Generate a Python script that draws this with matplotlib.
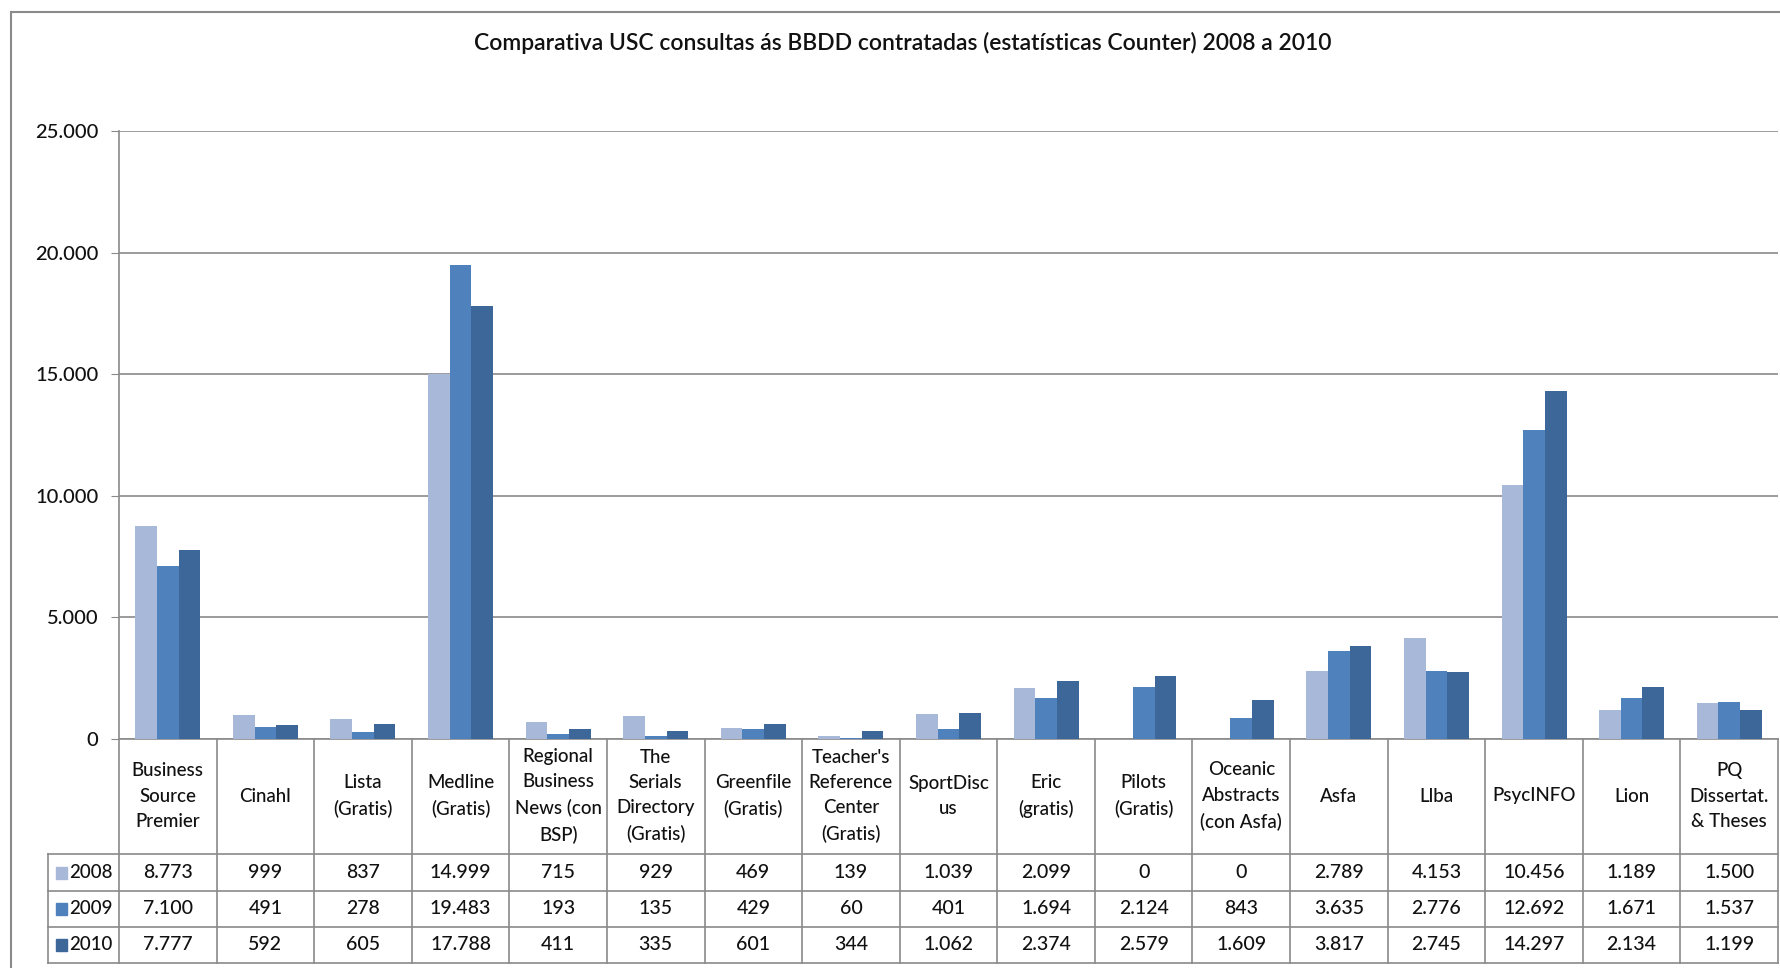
import matplotlib.pyplot as plt
from matplotlib.patches import Rectangle
import numpy as np

categories = ["Business\nSource\nPremier", "Cinahl", "Lista\n(Gratis)", "Medline\n(Gratis)",
              "Regional\nBusiness\nNews (con\nBSP)", "The\nSerials\nDirectory\n(Gratis)",
              "Greenfile\n(Gratis)", "Teacher's\nReference\nCenter\n(Gratis)", "SportDisc\nus",
              "Eric\n(gratis)", "Pilots\n(Gratis)", "Oceanic\nAbstracts\n(con Asfa)", "Asfa",
              "Llba", "PsycINFO", "Lion", "PQ\nDissertat.\n& Theses"]
years = ["2008", "2009", "2010"]
v2008 = [8773, 999, 837, 14999, 715, 929, 469, 139, 1039, 2099, 0, 0, 2789, 4153, 10456, 1189, 1500]
v2009 = [7100, 491, 278, 19483, 193, 135, 429, 60, 401, 1694, 2124, 843, 3635, 2776, 12692, 1671, 1537]
v2010 = [7777, 592, 605, 17788, 411, 335, 601, 344, 1062, 2374, 2579, 1609, 3817, 2745, 14297, 2134, 1199]
series = [v2008, v2009, v2010]
colors = ["#A7B8D9", "#4F81BD", "#3D6699"]
title = "Comparativa USC consultas ás BBDD contratadas (estatísticas Counter) 2008 a 2010"

plt.rcParams['font.family'] = ['Lato', 'DejaVu Sans']
plt.rcParams['font.weight'] = 'medium'
W, H = 1781, 968
grey = "#8A8A8A"
ink = "#111111"

def fmt(v):
    return f"{v:,}".replace(",", ".")

fig = plt.figure(figsize=(W / 100, H / 100), dpi=100)

# chart area border (runs off the right and bottom of the picture)
fig.patches.append(Rectangle((11 / W, -0.1), 1.2, 1 - 12 / H + 0.1, transform=fig.transFigure,
                             fill=False, edgecolor=grey, lw=1.5))
fig.text(903 / W, 1 - 43 / H, title, ha='center', va='center', fontsize=16.5,
         fontweight='semibold', color=ink)

# plot area
ax = fig.add_axes([119 / W, 1 - 739 / H, 1659 / W, 608 / H])
n = len(categories)
x = np.arange(n)
bw = 1 / 4.5
for i, (vals, c) in enumerate(zip(series, colors)):
    ax.bar(x + (i - 1) * bw, vals, width=bw, color=c, zorder=3)
ax.set_xlim(-0.5, n - 0.5)
ax.set_ylim(0, 25000)
ax.set_yticks(np.arange(0, 25001, 5000))
ax.set_yticklabels([fmt(t) for t in range(0, 25001, 5000)], fontsize=14.5, color=ink)
ax.yaxis.grid(True, color=grey, lw=1.2, zorder=0)
ax.set_xticks([])
ax.tick_params(axis='y', length=6, color=grey, pad=9)
for s in ['top', 'right']:
    ax.spines[s].set_visible(False)
for s in ['left', 'bottom']:
    ax.spines[s].set_color(grey)
    ax.spines[s].set_linewidth(1.2)

# data table below the plot
xl = -0.5 - 71 / 97.6
tab = fig.add_axes([48 / W, 1 - 963 / H, (1778 - 48) / W, 224 / H])
tab.set_xlim(xl, n - 0.5)
tab.set_ylim(224, 0)
tab.axis('off')
rows = [0, 115, 152, 188, 224]
for y in rows[1:]:
    tab.plot([xl, n - 0.5], [y, y], color=grey, lw=1.2, clip_on=False)
for k in range(n + 1):
    tab.plot([k - 0.5, k - 0.5], [0, 224], color=grey, lw=1.2, clip_on=False)
tab.plot([xl, xl], [115, 224], color=grey, lw=1.2, clip_on=False)

for k, cat in enumerate(categories):
    tab.text(k, 57, cat, ha='center', va='center', fontsize=13.5, linespacing=1.6, color=ink)
for r, (yr, vals, c) in enumerate(zip(years, series, colors)):
    yc = (rows[r + 1] + rows[r + 2]) / 2
    tab.add_patch(Rectangle((xl + 0.08, yc - 6), 0.11, 12, color=c))
    tab.text(xl + 0.22, yc, yr, ha='left', va='center', fontsize=13.5, color=ink)
    for k, v in enumerate(vals):
        tab.text(k, yc, fmt(v), ha='center', va='center', fontsize=14, color=ink)

fig.savefig("out.png", dpi=100)
